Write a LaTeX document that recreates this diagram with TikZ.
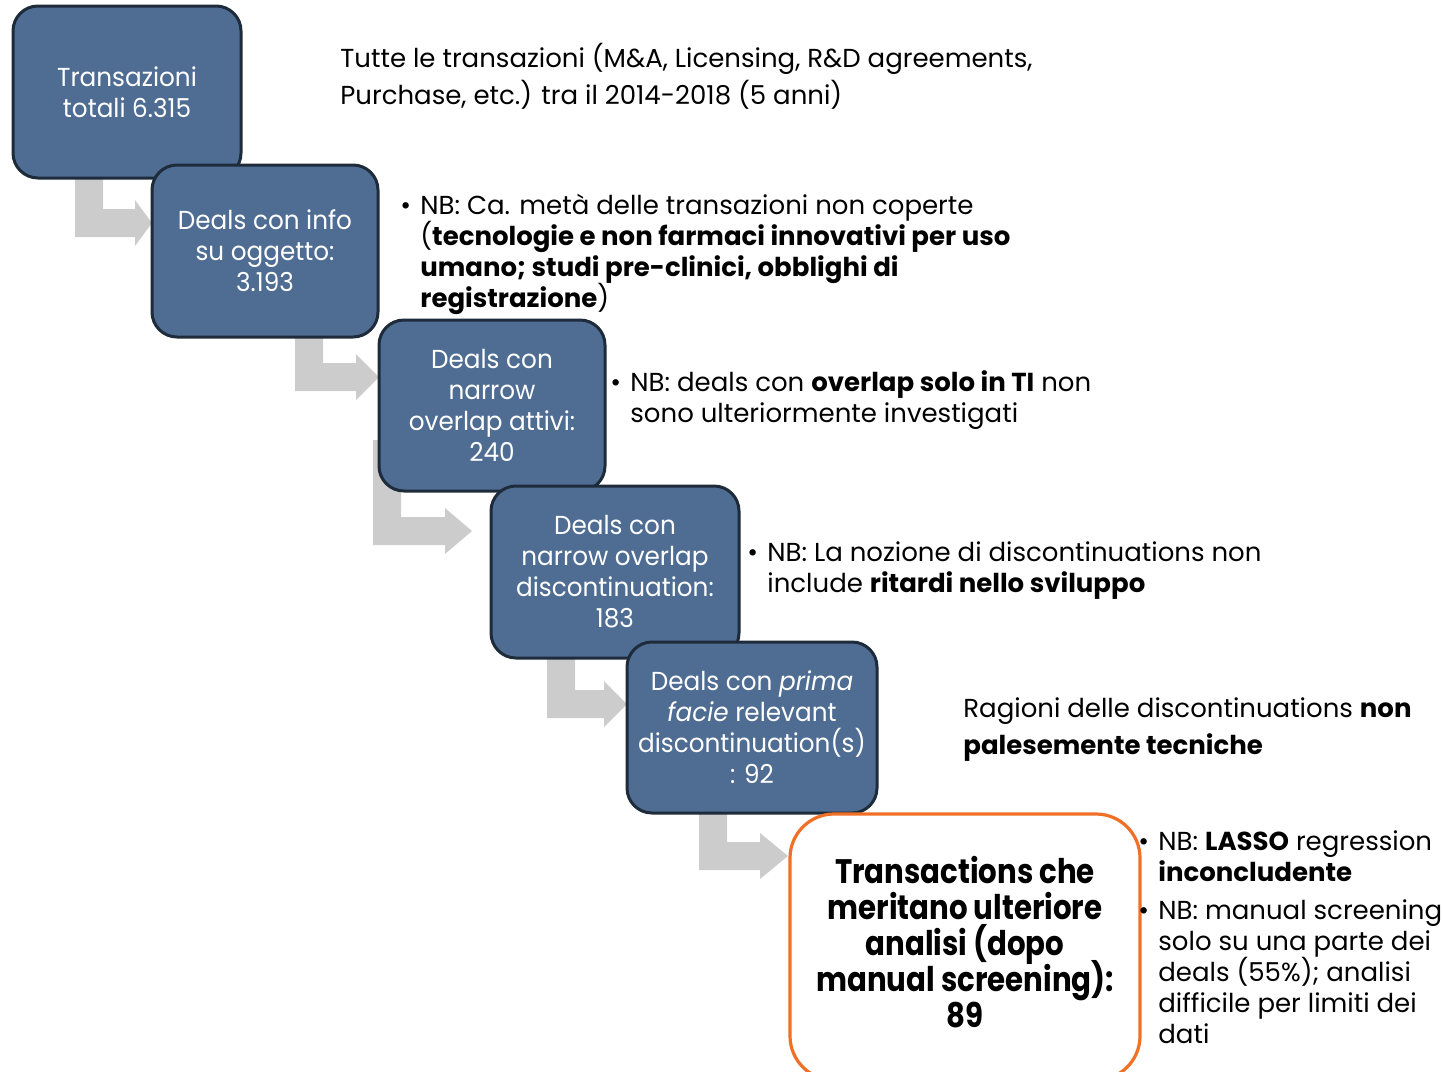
\documentclass[tikz,border=0pt]{standalone}
\usepackage{fontspec}
\setmainfont{Poppins}
\newfontfamily\condbold[FakeStretch=0.86]{Poppins}
\newfontfamily\boxfont[FakeStretch=0.95]{Poppins}
\definecolor{boxfill}{HTML}{4F6D93}
\definecolor{boxline}{HTML}{1E2B3B}
\definecolor{arrgray}{HTML}{CCCCCC}
\definecolor{orangeline}{HTML}{F07027}
\newcommand{\tightlines}{\lineskiplimit=-20pt\relax}
\newcommand{\bentarrow}[5]{%
  \fill[arrgray] (#1,#2) -- (#1+28,#2) -- (#1+28,#3-28) -- (#4,#3-28) -- (#4,#3-14-23)
    -- (#5,#3-14) -- (#4,#3-14+23) -- (#4,#3) -- (#1,#3) -- cycle;}
\newcommand{\bul}{\llap{\makebox[10pt][l]{\textbullet}}}
\begin{document}
\begin{tikzpicture}[x=0.5pt,y=-0.5pt,
  stepbox/.style={draw=boxline, line width=1.5pt, fill=boxfill, rounded corners=12.5pt,
    text=white, align=center, inner sep=0pt, font=\boxfont\fontsize{13}{15.5}\selectfont\tightlines},
  finalbox/.style={draw=orangeline, line width=1.6pt, fill=white, rounded corners=22pt,
    text=black, align=center, inner sep=0pt, text depth=5pt,
    font=\condbold\bfseries\fontsize{17}{18}\selectfont\tightlines},
  note/.style={anchor=base west, align=left, inner sep=0pt, text=black,
    font=\fontsize{13}{15.5}\selectfont\tightlines},
  note2/.style={note, font=\fontsize{13}{18.5}\selectfont\tightlines}]
\useasboundingbox (0,0) rectangle (1443,1071);
% connectors (bent arrows)
\bentarrow{75}{160}{237}{135}{152}
\bentarrow{295}{320}{391}{356}{379}
\bentarrow{373}{440}{545}{445}{472}
\bentarrow{547}{640}{718}{604}{627}
\bentarrow{699}{800}{870}{760}{788}
% boxes
\node[stepbox, minimum width=114pt, minimum height=86pt] (b1) at (127,92) {Transazioni\\totali 6.315};
\node[stepbox, minimum width=113pt, minimum height=86pt] (b2) at (265,251) {Deals con info\\su oggetto:\\3.193};
\node[stepbox, minimum width=113pt, minimum height=85.5pt] (b3) at (492,405.5) {Deals con\\narrow\\overlap attivi:\\240};
\node[stepbox, minimum width=124pt, minimum height=86pt] (b4) at (615,572) {Deals con\\narrow overlap\\discontinuation:\\183};
\node[stepbox, minimum width=125pt, minimum height=85.5pt] (b5) at (752,727.5) {Deals con \textit{prima}\\\textit{facie} relevant\\discontinuation(s)\\: 92};
\node[finalbox, minimum width=175pt, minimum height=133pt] (b6) at (965,947) {Transactions che\\meritano ulteriore\\analisi (dopo\\manual screening):\\89};
% notes
\node[note2] (t1) at (340,104) {Tutte le transazioni (M\&A, Licensing, R\&D agreements,\\Purchase, etc.) tra il 2014-2018 (5 anni)};
\node[note] (n1) at (420,307) {\bul NB: Ca. metà delle transazioni non coperte\\(\textbf{tecnologie e non farmaci innovativi per uso}\\\textbf{umano; studi pre-clinici, obblighi di}\\\textbf{registrazione})};
\node[note] (n2) at (630,422) {\bul NB: deals con \textbf{overlap solo in TI} non\\sono ulteriormente investigati};
\node[note] (n3) at (767,592) {\bul NB: La nozione di discontinuations non\\include \textbf{ritardi nello sviluppo}};
\node[note2] (r1) at (963,754) {Ragioni delle discontinuations \textbf{non}\\\textbf{palesemente tecniche}};
\node[note] (n4) at (1158,881) {\bul NB: \textbf{LASSO} regression\\\textbf{inconcludente}};
\node[note] (n5) at (1158,1043) {\bul NB: manual screening\\solo su una parte dei\\deals (55\%); analisi\\difficile per limiti dei\\dati};
\end{tikzpicture}
\end{document}
